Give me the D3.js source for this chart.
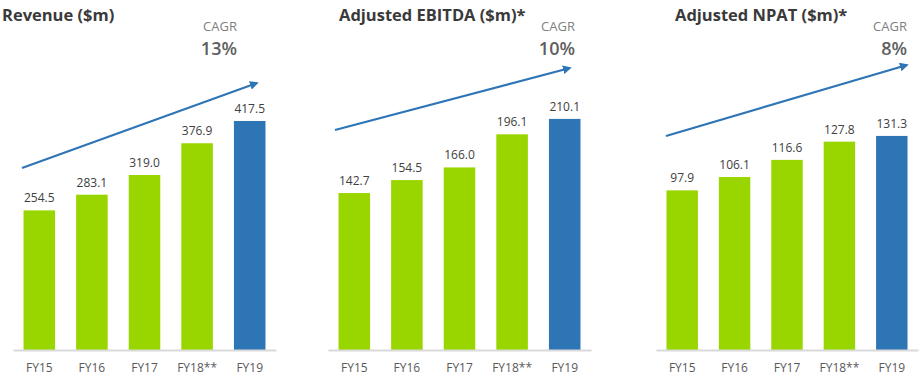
<!DOCTYPE html>
<html>
<head>
<meta charset="utf-8">
<script src="https://cdn.jsdelivr.net/npm/d3@7/dist/d3.min.js"></script>
<style>
  body { margin: 0; background: #fff; }
  svg text { font-family: 'Open Sans', 'Noto Sans', sans-serif; }
</style>
</head>
<body>
<div id="chart"></div>
<script>
var years = ['FY15', 'FY16', 'FY17', 'FY18**', 'FY19'];
var revenue = [254.5, 283.1, 319.0, 376.9, 417.5];
var ebitda = [142.7, 154.5, 166.0, 196.1, 210.1];
var npat = [97.9, 106.1, 116.6, 127.8, 131.3];
var titles = ['Revenue ($m)', 'Adjusted EBITDA ($m)*', 'Adjusted NPAT ($m)*'];
var cagr = ['13%', '10%', '8%'];

var width = 922, height = 379;
var baseline = 350;

// panel layout (positions only)
var panels = [
  { values: revenue, x0: 13, w: 263, yMax: 437.5, titleX: 2, cagrX: 237,
    arrow: [[9, 168], [244, 83]] },
  { values: ebitda, x0: 328, w: 263, yMax: 218.2, titleX: 339, cagrX: 575,
    arrow: [[7, 130], [242, 68]] },
  { values: npat, x0: 656, w: 262, yMax: 147.2, titleX: 675, cagrX: 907,
    arrow: [[10, 136], [251, 65]] }
];

var svg = d3.select('#chart')
  .append('svg')
  .attr('width', width)
  .attr('height', height);

svg.append('defs')
  .append('marker')
  .attr('id', 'head')
  .attr('viewBox', '0 0 10 10')
  .attr('refX', 8)
  .attr('refY', 5)
  .attr('markerWidth', 4)
  .attr('markerHeight', 4)
  .attr('orient', 'auto')
  .append('path')
  .attr('d', 'M0,0L10,5L0,10z')
  .attr('fill', '#2e75b6');

panels.forEach(function (p, i) {
  var x = d3.scaleBand()
    .domain(years)
    .range([p.x0, p.x0 + p.w])
    .paddingInner(0.4)
    .paddingOuter(0.2);

  var y = d3.scaleLinear()
    .domain([0, p.yMax])
    .range([baseline, baseline - 240]);

  var g = svg.append('g');

  g.append('text')
    .attr('x', p.titleX)
    .attr('y', 21)
    .style('font-size', '16.5px')
    .style('font-weight', 'bold')
    .style('fill', '#3a3a3a')
    .text(titles[i]);

  g.append('text')
    .attr('x', p.cagrX)
    .attr('y', 31)
    .attr('text-anchor', 'end')
    .style('font-size', '13px')
    .style('fill', '#808080')
    .text('CAGR');

  g.append('text')
    .attr('x', p.cagrX)
    .attr('y', 54.5)
    .attr('text-anchor', 'end')
    .style('font-size', '18px')
    .style('font-weight', 600)
    .style('fill', '#5f5f5f')
    .text(cagr[i]);

  g.selectAll('rect')
    .data(p.values)
    .enter()
    .append('rect')
    .attr('x', function (d, j) { return x(years[j]); })
    .attr('y', function (d) { return y(d); })
    .attr('width', x.bandwidth())
    .attr('height', function (d) { return baseline - y(d); })
    .attr('fill', function (d, j) { return j === years.length - 1 ? '#2e75b6' : '#99d600'; });

  g.selectAll('.val')
    .data(p.values)
    .enter()
    .append('text')
    .attr('class', 'val')
    .attr('x', function (d, j) { return x(years[j]) + x.bandwidth() / 2; })
    .attr('y', function (d) { return y(d) - 8; })
    .attr('text-anchor', 'middle')
    .style('font-size', '12px')
    .style('fill', '#404040')
    .text(function (d) { return d.toFixed(1); });

  // x axis
  var axis = g.append('g')
    .attr('transform', 'translate(0,' + baseline + ')')
    .call(d3.axisBottom(x).tickSize(0).tickPadding(13));
  axis.select('.domain')
    .attr('stroke', '#d9d9d9')
    .attr('stroke-width', 2);
  axis.selectAll('text')
    .style('font-size', '12px')
    .style('fill', '#595959');

  g.append('line')
    .attr('x1', p.x0 + p.arrow[0][0])
    .attr('y1', p.arrow[0][1])
    .attr('x2', p.x0 + p.arrow[1][0])
    .attr('y2', p.arrow[1][1])
    .attr('stroke', '#2e75b6')
    .attr('stroke-width', 2.2)
    .attr('marker-end', 'url(#head)');
});
</script>
</body>
</html>
